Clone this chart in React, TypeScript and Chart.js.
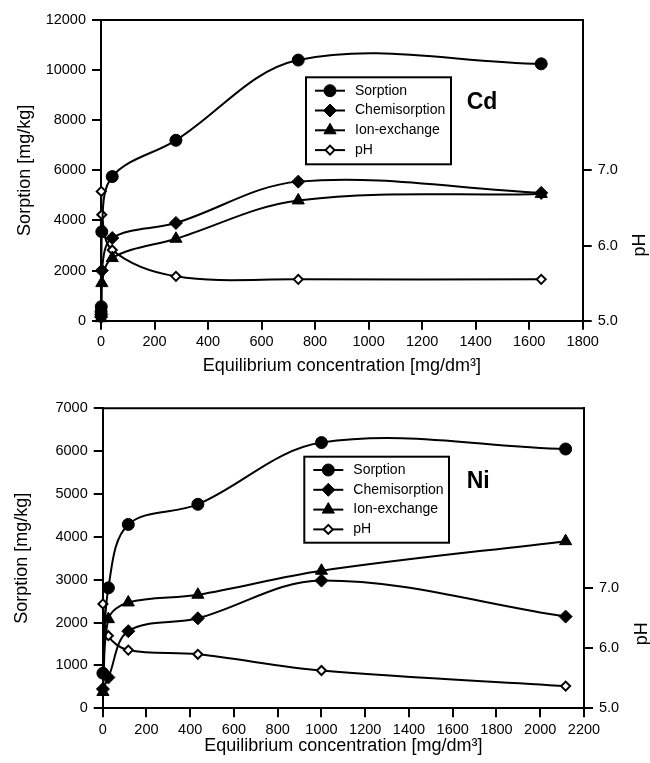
import { useEffect, useRef } from "react";
import { Chart, registerables } from "chart.js";
import { drawPoint } from "chart.js/helpers";

Chart.register(...registerables);

const FONT = "'Liberation Sans', Arial, Helvetica, sans-serif";

// ---- Cd sorption isotherm ----
const cdConc = [0.3, 1, 3, 42, 280, 737, 1645];
const cdSorption = [360, 560, 3550, 5750, 7200, 10400, 10250];
const cdChemisorption = [150, 250, 2000, 3300, 3900, 5550, 5100];
const cdIonExchange = [100, 300, 1500, 2500, 3270, 4800, 5060];
const cdPhConc = [1, 3, 42, 280, 737, 1645];
const cdPh = [6.72, 6.41, 5.94, 5.59, 5.55, 5.55];

// ---- Ni sorption isotherm ----
const niConc = [1, 26, 117, 435, 1000, 2116];
const niSorption = [820, 2810, 4290, 4760, 6200, 6050];
const niChemisorption = [450, 720, 1800, 2100, 2980, 2140];
const niIonExchange = [380, 2080, 2470, 2650, 3210, 3900];
const niPhConc = [1, 26, 117, 435, 1000, 2116];
const niPh = [6.74, 6.21, 5.97, 5.9, 5.63, 5.37];

const seriesLabels = ["Sorption", "Chemisorption", "Ion-exchange", "pH"];
const phTicks = [5, 6, 7];

const markerStyles = [
  { pointStyle: "circle", radius: 6, borderWidth: 1, bg: "#000" },
  { pointStyle: "rectRot", radius: 6.5, borderWidth: 1, bg: "#000" },
  { pointStyle: "triangle", radius: 7, borderWidth: 1, bg: "#000" },
  { pointStyle: "rectRot", radius: 4.5, borderWidth: 2, bg: "#fff" },
];

type Layout = {
  width: number;
  height: number;
  padTop: number;
  leftW: number;
  rightW: number;
  bottomH: number;
  leftTitlePad: number;
  bottomTitlePad: number;
  legendBox: [number, number, number, number];
  rowY0: number;
  rowGap: number;
  lineX0: number;
  lineX1: number;
  textX: number;
  labelX: number;
  labelY: number;
  phTitleX: number;
  phTitleY: number;
};

type PanelProps = {
  metal: string;
  conc: number[];
  sorption: number[];
  chem: number[];
  ion: number[];
  phConc: number[];
  ph: number[];
  xMax: number;
  yMax: number;
  yStep: number;
  phMax: number;
  layout: Layout;
  top: number;
};

const pts = (xs: number[], ys: number[]) => xs.map((x, i) => ({ x, y: ys[i] }));

function Panel(p: PanelProps) {
  const ref = useRef<HTMLCanvasElement | null>(null);

  useEffect(() => {
    if (!ref.current) return;
    const L = p.layout;

    const ds = (label: string, data: any, idx: number, axis: string) => {
      const m = markerStyles[idx];
      return {
        label,
        data,
        yAxisID: axis,
        borderColor: "#000",
        borderWidth: 2,
        pointStyle: m.pointStyle,
        pointRadius: m.radius,
        pointBorderWidth: m.borderWidth,
        pointBackgroundColor: m.bg,
        pointBorderColor: "#000",
        tension: 0.35,
        fill: false,
        clip: false,
      };
    };

    const decorations = {
      id: "decorations",
      afterDraw(chart: any) {
        const ctx = chart.ctx as CanvasRenderingContext2D;
        const ca = chart.chartArea;
        ctx.save();
        // top frame edge
        ctx.strokeStyle = "#000";
        ctx.lineWidth = 2;
        ctx.beginPath();
        ctx.moveTo(ca.left - 1, ca.top);
        ctx.lineTo(ca.right + 1, ca.top);
        ctx.stroke();

        // legend box
        const [bl, bt, br, bb] = L.legendBox;
        ctx.strokeRect(bl, bt, br - bl, bb - bt);
        seriesLabels.forEach((lab, i) => {
          const y = L.rowY0 + i * L.rowGap;
          ctx.strokeStyle = "#000";
          ctx.lineWidth = 2;
          ctx.beginPath();
          ctx.moveTo(L.lineX0, y);
          ctx.lineTo(L.lineX1, y);
          ctx.stroke();
          const m = markerStyles[i];
          ctx.fillStyle = m.bg;
          ctx.strokeStyle = "#000";
          ctx.lineWidth = m.borderWidth;
          drawPoint(
            ctx,
            { pointStyle: m.pointStyle as any, rotation: 0, radius: m.radius, borderWidth: m.borderWidth },
            (L.lineX0 + L.lineX1) / 2,
            y
          );
          ctx.fillStyle = "#000";
          ctx.font = `14px ${FONT}`;
          ctx.textAlign = "left";
          ctx.textBaseline = "middle";
          ctx.fillText(lab, L.textX, y);
        });

        // metal label
        ctx.fillStyle = "#000";
        ctx.font = `bold 23px ${FONT}`;
        ctx.textAlign = "left";
        ctx.textBaseline = "alphabetic";
        ctx.fillText(p.metal, L.labelX, L.labelY);

        // right axis title, reading bottom to top
        ctx.translate(L.phTitleX, L.phTitleY);
        ctx.rotate(-Math.PI / 2);
        ctx.font = `18px ${FONT}`;
        ctx.textAlign = "center";
        ctx.textBaseline = "middle";
        ctx.fillText("pH", 0, 0);
        ctx.restore();
      },
    };

    const tickFont = { family: FONT, size: 14.5 };
    const titleFont = { family: FONT, size: 18 };
    const grid = { drawOnChartArea: false, drawTicks: true, tickLength: 9, color: "#000", lineWidth: 2 };
    const border = { display: true, color: "#000", width: 2 };
    const plain = (v: any) => String(v);

    const chart = new Chart(ref.current, {
      type: "line",
      data: {
        datasets: [
          ds(seriesLabels[0], pts(p.conc, p.sorption), 0, "y"),
          ds(seriesLabels[1], pts(p.conc, p.chem), 1, "y"),
          ds(seriesLabels[2], pts(p.conc, p.ion), 2, "y"),
          ds(seriesLabels[3], pts(p.phConc, p.ph), 3, "y1"),
        ] as any,
      },
      options: {
        responsive: false,
        animation: false,
        events: [],
        layout: { padding: { top: L.padTop, left: 0, right: 0, bottom: 0 } },
        plugins: { legend: { display: false }, tooltip: { enabled: false } },
        scales: {
          x: {
            type: "linear",
            min: 0,
            max: p.xMax,
            ticks: {
              stepSize: 200,
              font: tickFont,
              color: "#000",
              padding: 4,
              maxRotation: 0,
              autoSkip: false,
              callback: plain,
            },
            grid,
            border,
            title: {
              display: true,
              text: "Equilibrium concentration [mg/dm³]",
              font: titleFont,
              color: "#000",
              padding: { top: 0, bottom: L.bottomTitlePad },
            },
            afterFit: (s: any) => {
              s.height = L.bottomH;
            },
          },
          y: {
            type: "linear",
            position: "left",
            min: 0,
            max: p.yMax,
            ticks: { stepSize: p.yStep, font: tickFont, color: "#000", padding: 6, callback: plain },
            grid,
            border,
            title: {
              display: true,
              text: "Sorption [mg/kg]",
              font: titleFont,
              color: "#000",
              padding: { top: L.leftTitlePad, bottom: 0 },
            },
            afterFit: (s: any) => {
              s.width = L.leftW;
            },
          },
          y1: {
            type: "linear",
            position: "right",
            min: 5,
            max: p.phMax,
            afterBuildTicks: (s: any) => {
              s.ticks = phTicks.map((v) => ({ value: v }));
            },
            ticks: {
              font: tickFont,
              color: "#000",
              padding: 6,
              callback: (v: any) => Number(v).toFixed(1),
            },
            grid,
            border,
            afterFit: (s: any) => {
              s.width = L.rightW;
            },
          },
        },
      } as any,
      plugins: [decorations],
    });

    return () => chart.destroy();
  }, []);

  return (
    <canvas
      ref={ref}
      width={p.layout.width}
      height={p.layout.height}
      style={{ position: "absolute", left: 0, top: p.top, display: "block" }}
    />
  );
}

const cdLayout: Layout = {
  width: 650,
  height: 380,
  padTop: 20,
  leftW: 101,
  rightW: 67.3,
  bottomH: 59.3,
  leftTitlePad: 14,
  bottomTitlePad: 3.2,
  legendBox: [306, 77.3, 451, 164.3],
  rowY0: 90.7,
  rowGap: 19.8,
  lineX0: 315,
  lineX1: 345,
  textX: 355,
  labelX: 466.7,
  labelY: 109.3,
  phTitleX: 640,
  phTitleY: 245,
};

const niLayout: Layout = {
  width: 650,
  height: 383,
  padTop: 28.3,
  leftW: 102.7,
  rightW: 66,
  bottomH: 54.7,
  leftTitlePad: 11,
  bottomTitlePad: 5.7,
  legendBox: [304.3, 76.7, 449, 162.7],
  rowY0: 90,
  rowGap: 19.8,
  lineX0: 313.3,
  lineX1: 343.3,
  textX: 353.3,
  labelX: 466.7,
  labelY: 108.3,
  phTitleX: 641.7,
  phTitleY: 253.7,
};

export default function App() {
  return (
    <div style={{ position: "fixed", left: 0, top: 0, width: 650, height: 763, background: "#fff" }}>
      <Panel
        metal="Cd"
        conc={cdConc}
        sorption={cdSorption}
        chem={cdChemisorption}
        ion={cdIonExchange}
        phConc={cdPhConc}
        ph={cdPh}
        xMax={1800}
        yMax={12000}
        yStep={2000}
        phMax={9}
        layout={cdLayout}
        top={0}
      />
      <Panel
        metal="Ni"
        conc={niConc}
        sorption={niSorption}
        chem={niChemisorption}
        ion={niIonExchange}
        phConc={niPhConc}
        ph={niPh}
        xMax={2200}
        yMax={7000}
        yStep={1000}
        phMax={10}
        layout={niLayout}
        top={380}
      />
    </div>
  );
}
